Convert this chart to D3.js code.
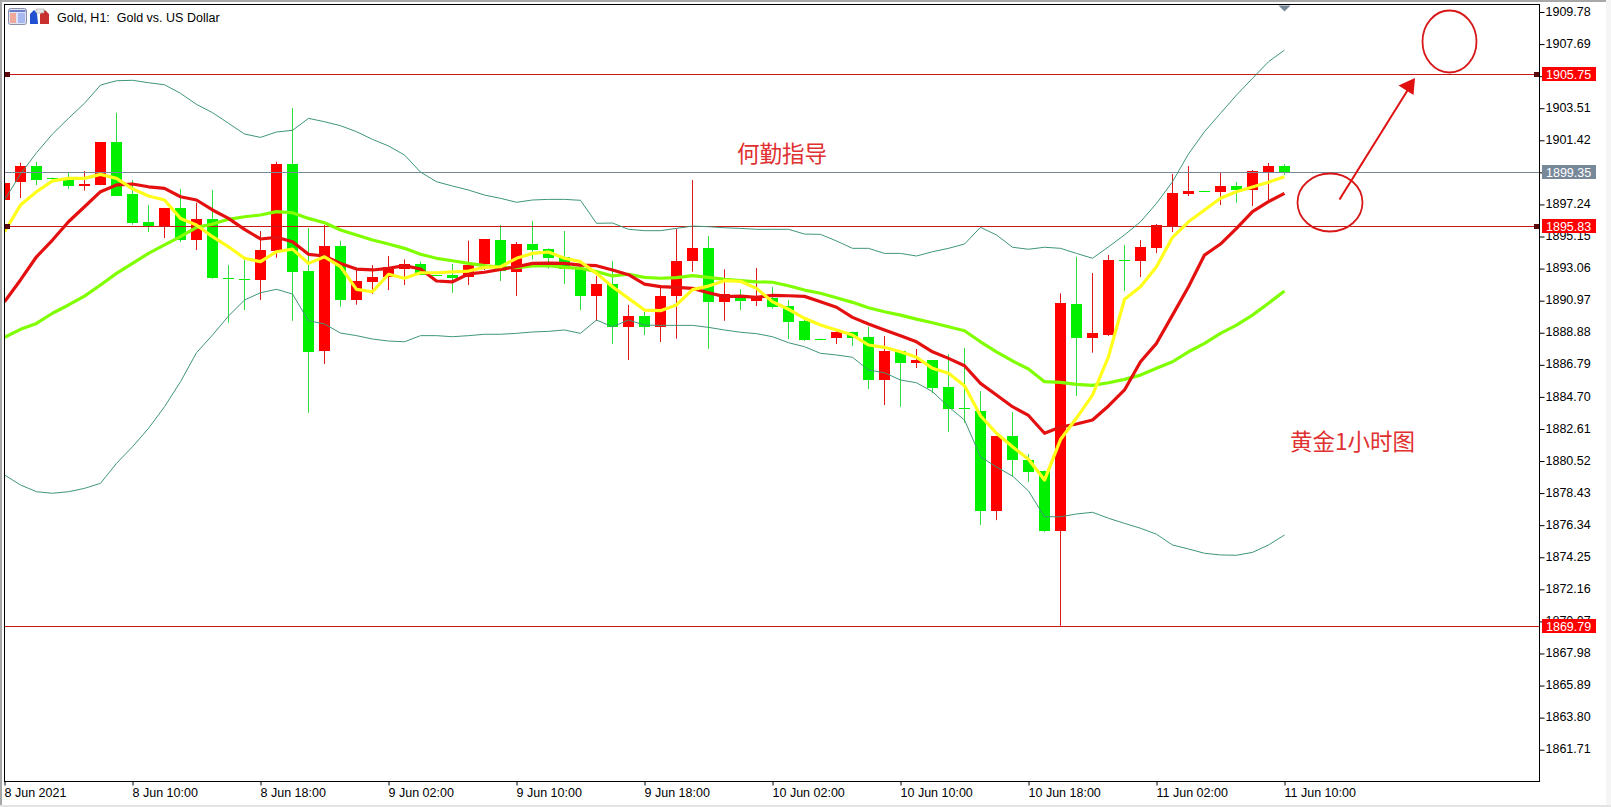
<!DOCTYPE html>
<html><head><meta charset="utf-8">
<style>html,body{margin:0;padding:0;background:#fff;overflow:hidden}svg{display:block}</style>
<script src="https://cdn.jsdelivr.net/npm/d3@7"></script></head>
<body><svg id="c" width="1611" height="807"></svg>
<script>
const title = "Gold, H1:  Gold vs. US Dollar";
const opens = [1897.53,1898.70,1899.74,1898.96,1898.83,1898.44,1898.50,1901.31,1897.92,1896.10,
1895.79,1897.01,1894.88,1896.27,1892.47,1892.38,1892.32,1894.22,1899.87,1892.90,
1887.71,1894.53,1891.01,1892.19,1892.47,1893.01,1893.34,1892.63,1892.64,1892.49,
1893.36,1894.92,1892.86,1894.66,1894.34,1893.79,1893.03,1891.27,1892.06,1889.23,
1889.97,1889.27,1891.27,1893.55,1894.40,1890.90,1891.36,1890.97,1891.12,1890.62,
1889.64,1888.49,1888.54,1888.93,1888.60,1885.80,1887.69,1886.91,1887.10,1885.34,
1883.97,1883.78,1877.26,1882.15,1880.59,1879.87,1875.96,1890.75,1888.54,1888.73,
1893.60,1893.55,1894.40,1895.77,1897.92,1898.11,1898.05,1898.44,1898.18,1899.35,1899.74];
const highs = [1898.77,1899.96,1900.02,1898.99,1899.29,1899.42,1901.31,1903.22,1898.83,1897.20,
1897.01,1898.25,1897.35,1898.18,1893.29,1893.62,1895.51,1900.02,1903.52,1895.70,
1895.90,1894.88,1892.97,1893.29,1893.88,1893.66,1893.51,1892.65,1893.36,1894.88,
1894.99,1895.90,1894.79,1896.16,1894.38,1895.51,1893.62,1892.58,1893.55,1890.69,
1890.25,1891.99,1895.66,1898.83,1895.18,1893.01,1891.71,1893.10,1891.86,1891.01,
1889.77,1888.50,1888.99,1888.96,1889.27,1888.67,1887.69,1887.82,1887.10,1887.49,
1887.89,1885.08,1882.15,1883.71,1880.98,1879.90,1891.45,1893.83,1892.77,1893.95,
1894.60,1894.92,1895.97,1899.22,1899.74,1898.13,1899.35,1898.70,1899.48,1899.94,1899.87];
const lows = [1897.46,1897.66,1898.50,1898.88,1898.27,1898.14,1898.50,1897.79,1895.92,1895.44,
1895.05,1894.79,1894.27,1892.40,1889.53,1890.36,1891.01,1893.77,1889.66,1883.67,
1886.84,1890.58,1890.71,1891.40,1891.66,1891.99,1892.64,1892.60,1891.49,1891.99,
1892.97,1892.25,1891.27,1893.66,1893.05,1892.06,1890.36,1889.66,1888.15,1887.10,
1888.73,1888.28,1888.49,1892.86,1887.84,1889.66,1890.36,1890.62,1890.45,1888.47,
1888.34,1888.44,1888.15,1888.02,1885.21,1884.17,1884.06,1886.58,1884.95,1882.41,
1883.02,1876.35,1876.67,1879.50,1879.15,1875.89,1869.79,1884.76,1887.58,1888.67,
1891.60,1892.51,1894.07,1895.44,1897.79,1898.08,1897.20,1897.35,1897.14,1897.42,1899.16];
const closes = [1898.64,1899.74,1898.83,1898.90,1898.44,1898.54,1901.31,1897.79,1896.05,1895.79,
1897.01,1894.92,1896.27,1892.45,1892.43,1892.34,1894.27,1899.87,1892.84,1887.64,
1894.53,1891.01,1892.25,1892.49,1893.14,1893.34,1892.64,1892.61,1892.45,1893.29,
1894.99,1892.90,1894.66,1894.27,1893.75,1893.03,1891.27,1892.06,1889.23,1889.97,
1889.27,1891.27,1893.55,1894.40,1890.90,1891.40,1890.95,1891.27,1890.54,1889.60,
1888.41,1888.46,1888.93,1888.54,1885.80,1887.69,1886.91,1887.10,1885.28,1883.91,
1883.90,1877.26,1882.15,1880.59,1879.80,1875.96,1890.82,1888.54,1888.86,1893.62,
1893.55,1894.47,1895.90,1897.98,1898.12,1898.09,1898.44,1898.18,1899.42,1899.74,1899.35];
const maFast = [1895.46,1897.20,1898.07,1898.78,1898.94,1898.94,1899.20,1898.94,1898.26,1897.79,
1897.53,1896.33,1895.90,1895.14,1894.48,1893.73,1893.51,1894.16,1894.33,1893.40,
1893.83,1893.19,1891.71,1891.55,1892.69,1892.43,1892.79,1892.79,1892.84,1892.90,
1893.14,1893.18,1893.73,1894.05,1894.14,1893.73,1893.51,1892.75,1891.88,1891.12,
1890.36,1890.32,1890.69,1891.69,1891.92,1892.27,1892.23,1891.77,1890.90,1890.41,
1889.82,1889.38,1889.06,1888.73,1888.08,1887.93,1887.64,1887.28,1886.56,1886.24,
1885.43,1883.47,1882.33,1881.45,1880.63,1879.28,1881.92,1883.32,1884.82,1887.32,
1891.06,1891.88,1893.18,1895.10,1896.11,1896.88,1897.64,1898.07,1898.38,1898.69,1899.05];
const maMid = [1890.90,1892.32,1893.83,1894.92,1896.11,1897.09,1898.07,1898.51,1898.57,1898.39,
1898.29,1897.74,1897.53,1896.88,1896.33,1895.62,1894.99,1895.10,1894.81,1893.99,
1893.88,1893.39,1893.03,1892.97,1893.08,1893.25,1893.03,1892.25,1892.20,1892.71,
1892.82,1893.01,1893.18,1893.40,1893.42,1893.40,1893.29,1893.25,1892.97,1892.66,
1892.05,1891.88,1891.84,1891.77,1891.49,1891.23,1891.27,1891.19,1891.32,1891.29,
1891.25,1890.90,1890.54,1889.88,1889.45,1889.06,1888.69,1888.29,1887.64,1887.21,
1886.73,1885.58,1884.82,1884.06,1883.49,1882.33,1882.74,1882.93,1883.19,1884.11,
1885.15,1886.99,1888.19,1890.03,1891.88,1893.94,1894.66,1895.68,1896.77,1897.42,1897.96];
const maSlow = [1888.58,1889.10,1889.49,1890.15,1890.69,1891.27,1891.99,1892.75,1893.40,1894.05,
1894.60,1895.14,1895.75,1895.96,1896.27,1896.44,1896.55,1896.77,1896.70,1896.33,
1896.05,1895.57,1895.25,1894.92,1894.66,1894.38,1893.99,1893.73,1893.57,1893.40,
1893.25,1893.14,1893.12,1893.23,1893.25,1893.14,1893.08,1892.86,1892.58,1892.69,
1892.49,1892.43,1892.47,1892.60,1892.49,1892.36,1892.27,1892.20,1892.17,1891.94,
1891.66,1891.45,1891.16,1890.86,1890.51,1890.25,1890.03,1889.77,1889.53,1889.27,
1889.01,1888.29,1887.64,1887.04,1886.52,1885.69,1885.65,1885.52,1885.45,1885.62,
1885.84,1886.12,1886.56,1886.99,1887.64,1888.19,1888.84,1889.38,1890.03,1890.80,1891.60];
const bandUpper = [1897.53,1899.22,1900.61,1901.83,1902.85,1903.83,1905.02,1905.30,1905.33,1905.17,
1905.04,1904.48,1903.76,1903.22,1902.53,1901.83,1901.61,1901.96,1902.07,1902.85,
1902.63,1902.37,1901.98,1901.48,1901.05,1900.46,1899.35,1898.72,1898.44,1898.18,
1897.85,1897.64,1897.38,1897.53,1897.57,1897.57,1897.51,1896.01,1896.03,1895.62,
1895.53,1895.53,1895.68,1895.83,1895.79,1895.72,1895.68,1895.62,1895.62,1895.62,
1895.31,1895.29,1894.86,1894.38,1894.38,1894.05,1894.05,1893.88,1894.16,1894.38,
1894.66,1895.75,1895.25,1894.45,1894.32,1894.45,1894.38,1894.05,1893.73,1894.48,
1895.25,1896.11,1897.31,1898.72,1900.53,1901.98,1903.18,1904.37,1905.46,1906.54,1907.30];
const bandLower = [1879.61,1878.96,1878.52,1878.42,1878.52,1878.74,1879.07,1880.37,1881.45,1882.65,
1884.06,1885.69,1887.58,1888.73,1889.97,1891.01,1891.49,1891.71,1891.40,1889.66,
1889.45,1888.86,1888.69,1888.47,1888.34,1888.29,1888.69,1888.69,1888.62,1888.69,
1888.78,1888.78,1888.84,1888.93,1888.97,1889.06,1888.84,1889.71,1889.27,1889.71,
1889.38,1889.36,1889.36,1889.36,1889.23,1889.06,1888.91,1888.82,1888.62,1888.23,
1887.97,1887.54,1887.43,1887.28,1886.45,1886.27,1885.80,1885.62,1885.04,1884.06,
1883.19,1880.80,1880.13,1879.54,1878.57,1876.89,1876.89,1877.07,1877.18,1876.79,
1876.46,1876.14,1875.75,1875.05,1874.79,1874.51,1874.40,1874.38,1874.57,1875.05,1875.70];
const priceTicks = [1909.78,1907.69,1905.60,1903.51,1901.42,1899.33,1897.24,1895.15,1893.06,1890.97,1888.88,1886.79,1884.70,1882.61,1880.52,1878.43,1876.34,1874.25,1872.16,1870.07,1867.98,1865.89,1863.80,1861.71];
const timeTickIndex = [0,8,16,24,32,40,48,56,64,72,80];
const timeTickLabels = ["8 Jun 2021","8 Jun 10:00","8 Jun 18:00","9 Jun 02:00","9 Jun 10:00","9 Jun 18:00","10 Jun 02:00","10 Jun 10:00","10 Jun 18:00","11 Jun 02:00","11 Jun 10:00"];
const levelLines = [1905.75,1895.83,1869.79];
const levelMarked = [1905.75,1895.83];
const bidPrice = 1899.35;
const noteTexts = ["何勤指导","黄金1小时图"];

const svg = d3.select("#c");
const F = "'Liberation Sans',Arial,sans-serif";
const CJK = "'Noto Sans CJK SC',sans-serif";
const L=4.5,T=4.5,R=1539.5,B=781.5;
const x = d3.scaleLinear().domain([0,80]).range([4.5,1284.5]);
const y = d3.scaleLinear().domain([1909.78,1861.71]).range([12,749.7]);

// window chrome
svg.append("rect").attr("x",0).attr("y",0).attr("width",1606).attr("height",2).attr("fill","#a8a8a8");
svg.append("rect").attr("x",0).attr("y",0).attr("width",2).attr("height",807).attr("fill","#a8a8a8");
svg.append("rect").attr("x",1606).attr("y",0).attr("width",5).attr("height",807).attr("fill","#f5f5f5");
svg.append("rect").attr("x",0).attr("y",805).attr("width",1611).attr("height",2).attr("fill","#e4e4e4");

const defs = svg.append("defs");
defs.append("clipPath").attr("id","plot").append("rect").attr("x",L).attr("y",T).attr("width",R-L).attr("height",B-T);
const plot = svg.append("g").attr("clip-path","url(#plot)");

// candles
const RED="#ff0000", GRN="#00f000";
const idx = d3.range(opens.length);
const col = i => closes[i]>=opens[i]?RED:GRN;
plot.append("g").selectAll("rect.w").data(idx).join("rect")
  .attr("x",i=>x(i)-0.5).attr("width",1)
  .attr("y",i=>y(highs[i])).attr("height",i=>Math.max(1,y(lows[i])-y(highs[i])))
  .attr("fill",i=>closes[i]>=opens[i]?"#e01515":"#2fdc3f");
plot.append("g").selectAll("rect.b").data(idx).join("rect")
  .attr("x",i=>x(i)-5.5).attr("width",11)
  .attr("y",i=>Math.round(y(Math.max(opens[i],closes[i]))))
  .attr("height",i=>Math.max(1,Math.round(Math.abs(y(opens[i])-y(closes[i])))))
  .attr("fill",col);

// horizontal levels
plot.append("g").selectAll("line").data(levelLines).join("line")
  .attr("x1",L).attr("x2",R).attr("y1",d=>Math.round(y(d))+0.5).attr("y2",d=>Math.round(y(d))+0.5)
  .attr("stroke","#c81818").attr("stroke-width",1);
plot.append("line").attr("x1",L).attr("x2",R).attr("y1",Math.round(y(bidPrice))+0.5).attr("y2",Math.round(y(bidPrice))+0.5)
  .attr("stroke","#778899").attr("stroke-width",1);

// indicators
const line = d3.line().x((d,i)=>x(i)).y(d=>y(d));
[[bandUpper,"#3f9678",1],[bandLower,"#3f9678",1],[maSlow,"#80ff00",3.2],[maMid,"#e40f0f",3.2],[maFast,"#ffff1a",3.2]].forEach(([s,c,w])=>{
  plot.append("path").datum(s).attr("d",line).attr("fill","none").attr("stroke",c).attr("stroke-width",w).attr("stroke-linejoin","round");
});

// level end markers
levelMarked.forEach(p=>{
  [7.5,1536.5].forEach(mx=>{
    svg.append("rect").attr("x",mx-2.5).attr("y",Math.round(y(p))-2).attr("width",5).attr("height",5).attr("fill","#5a0808");
  });
});

// frame
svg.append("rect").attr("x",L).attr("y",T).attr("width",R-L).attr("height",B-T).attr("fill","none").attr("stroke","#000");

// axes
const ay = svg.append("g").attr("transform",`translate(${R},0)`)
  .call(d3.axisRight(y).tickValues(priceTicks).tickFormat(d3.format(".2f")).tickSize(5).tickPadding(1));
ay.select(".domain").remove();
ay.selectAll("text").attr("font-family",F).attr("font-size",12.5).attr("fill","#000").attr("dy","0.25em");
const ax = svg.append("g").attr("transform",`translate(0,${B})`)
  .call(d3.axisBottom(x).tickValues(timeTickIndex).tickFormat((d,i)=>timeTickLabels[i]).tickSize(4).tickPadding(1));
ax.select(".domain").remove();
ax.selectAll("text").attr("font-family",F).attr("font-size",12.5).attr("fill","#000").attr("text-anchor","start").attr("dx",-0.5).attr("dy","0.8em");

// price tags
function tag(p,c){
  const py=Math.round(y(p));
  svg.append("rect").attr("x",1542).attr("y",py-7).attr("width",54).attr("height",14).attr("fill",c);
  svg.append("text").attr("x",1546).attr("y",py+4.5).attr("font-family",F).attr("font-size",12.5).attr("fill","#fff").text(d3.format(".2f")(p));
}
levelLines.forEach(p=>tag(p,"#ff0000"));
tag(bidPrice,"#778899");

// title + icons
svg.append("text").attr("x",57).attr("y",22).attr("font-family",F).attr("font-size",12.5).attr("fill","#000").attr("xml:space","preserve").style("white-space","pre").text(title);
const ic = svg.append("g");
ic.append("rect").attr("x",8.5).attr("y",8.5).attr("width",18).attr("height",16).attr("rx",2).attr("fill","#dfe3f5").attr("stroke","#8b8fa8");
ic.append("rect").attr("x",10).attr("y",13).attr("width",6).attr("height",10).attr("fill","#f0a898");
ic.append("rect").attr("x",18).attr("y",13).attr("width",7).attr("height",10).attr("fill","#a8b8f0");
ic.append("rect").attr("x",9.5).attr("y",10).attr("width",16).attr("height",2).attr("fill","#6a7fc8");
ic.append("path").attr("d","M30 14 L34 10 L37 13 L38 24 L30 24 Z").attr("fill","#2050d0");
ic.append("path").attr("d","M40 24 L40 14 L45 10 L49 14 L49 24 Z").attr("fill","#c83030");
ic.append("rect").attr("x",36).attr("y",9).attr("width",8).attr("height",4).attr("fill","#e8e8e8").attr("stroke","#999").attr("stroke-width",0.5);

// hand-drawn annotations
const hand="#d81818";
svg.append("ellipse").attr("cx",1449.5).attr("cy",41.5).attr("rx",27).attr("ry",31).attr("fill","none").attr("stroke",hand).attr("stroke-width",1.8);
svg.append("ellipse").attr("cx",1330).attr("cy",202.5).attr("rx",32.5).attr("ry",29).attr("fill","none").attr("stroke",hand).attr("stroke-width",1.8);
svg.append("line").attr("x1",1339.5).attr("y1",199.5).attr("x2",1409).attr("y2",88).attr("stroke","#e01010").attr("stroke-width",2);
svg.append("path").attr("d","M1415 78 L1413.5 95 L1398.5 85.5 Z").attr("fill","#e01010");
svg.append("text").attr("x",737).attr("y",162).attr("font-family",CJK).attr("font-size",22.5).attr("fill","#e03030").text(noteTexts[0]);
svg.append("text").attr("x",1290).attr("y",450).attr("font-family",CJK).attr("font-size",22.5).attr("fill","#e03030").text(noteTexts[1]);

// current-bar marker
svg.append("path").attr("d",d3.line()([[x(80)-6,T+1],[x(80)+6,T+1],[x(80),T+7]])+"Z").attr("fill","#778899");
</script></body></html>
